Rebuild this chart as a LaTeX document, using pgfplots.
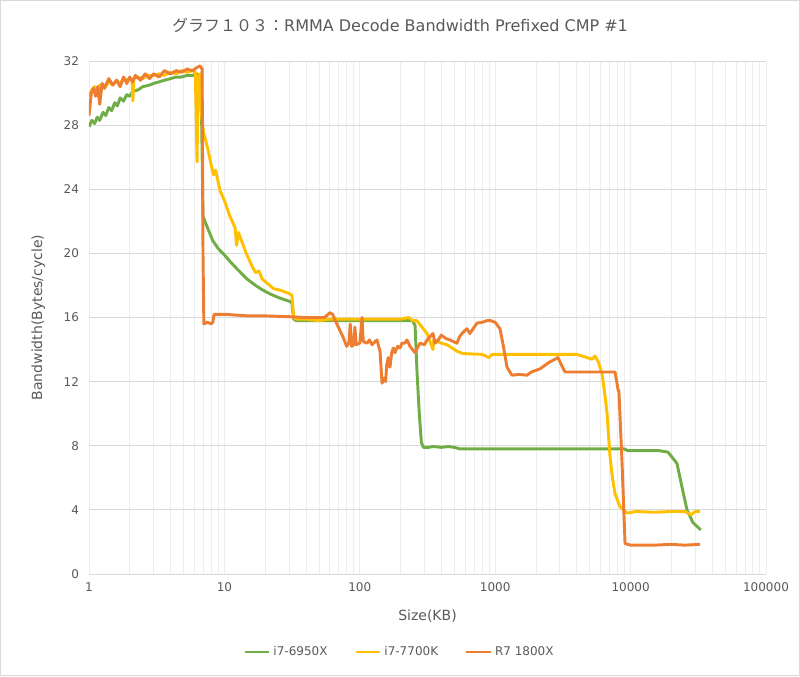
\documentclass[border=0pt]{standalone}
\usepackage{pgfplots}
\pgfplotsset{compat=1.18}
\usepackage{fontspec}
\setmainfont{DejaVu Sans}
\newfontfamily\cjk{Noto Sans CJK JP}
\definecolor{cGreen}{HTML}{70AD47}
\definecolor{cYellow}{HTML}{FFC000}
\definecolor{cOrange}{HTML}{ED7D31}
\definecolor{txtgray}{HTML}{595959}
\definecolor{gridgray}{HTML}{D9D9D9}
\definecolor{minorgray}{HTML}{EDEDED}

\begin{document}
\begin{tikzpicture}[x=1pt,y=1pt]
\useasboundingbox (0,0) rectangle (600,507);
\draw[gridgray, line width=1pt] (0.5,0.5) rectangle (599.5,506.5);
\begin{axis}[
  at={(66.75pt,76.5pt)}, anchor=south west,
  scale only axis,
  width=507.75pt, height=384.75pt,
  xmode=log, log basis x=10,
  xmin=1, xmax=100000,
  ymin=0, ymax=32,
  ytick={0,4,...,32},
  xtick={1,10,100,1000,10000,100000},
  xticklabels={1,10,100,1000,10000,100000},
  minor xtick={2,3,4,5,6,7,8,9,20,30,40,50,60,70,80,90,200,300,400,500,600,700,800,900,2000,3000,4000,5000,6000,7000,8000,9000,20000,30000,40000,50000,60000,70000,80000,90000},
  axis line style={draw=none},
  major tick length=0pt, minor tick length=0pt,
  xmajorgrids, ymajorgrids, xminorgrids,
  x grid style={minorgray, line width=0.6pt},
  minor x grid style={minorgray, line width=0.6pt},
  y grid style={gridgray, line width=0.7pt},
  tick label style={font=\fontsize{9}{10}\selectfont, text=txtgray},
  /pgf/number format/assume math mode=true,
  xticklabel style={yshift=-3pt},
  yticklabel style={xshift=-4pt},
  xlabel={Size(KB)},
  ylabel={Bandwidth(Bytes/cycle)},
  label style={font=\fontsize{10.5}{12}\selectfont, text=txtgray},
  xlabel style={at={(axis description cs:0.5,-0.06)}, anchor=north},
  ylabel style={at={(axis description cs:-0.058,0.5)}, anchor=south},
  legend columns=3,
  legend style={draw=none, fill=none, at={(axis description cs:0.459,-0.152)}, anchor=center,
    font=\fontsize{9}{10}\selectfont, text=txtgray,
    /tikz/every even column/.append style={column sep=18pt}},
  legend image code/.code={\draw[#1, line width=2.2pt] (0pt,0pt) -- (0.65cm,0pt);},
  every axis plot/.append style={line width=2.2pt, line join=round},
]
\addplot[cGreen] table {
1 27.9
1.05 28.3
1.1 28.1
1.15 28.5
1.2 28.3
1.27 28.8
1.33 28.6
1.4 29.1
1.47 28.9
1.55 29.4
1.62 29.2
1.7 29.7
1.8 29.5
1.9 29.9
2.0 29.8
2.1 30.1
2.3 30.2
2.5 30.4
2.8 30.5
3.0 30.6
3.3 30.7
3.6 30.8
4.0 30.9
4.4 31.0
4.8 31.0
5.3 31.1
5.8 31.1
6.3 31.2
6.6 31.0
6.8 28.0
6.95 22.3
7.5 21.6
8.2 20.8
9 20.3
10 19.9
11 19.5
12.5 19.0
14.7 18.4
17 18.0
19.3 17.7
22 17.45
25 17.25
28 17.1
30.5 17.0
31.5 16.9
32.5 15.9
34 15.8
40 15.8
60 15.8
100 15.8
150 15.8
200 15.8
245 15.8
256 15.5
265 12.5
275 10.0
285 8.2
295 7.9
320 7.9
350 7.95
400 7.9
450 7.95
500 7.9
550 7.8
1000 7.8
3000 7.8
6000 7.8
9000 7.8
9500 7.7
12000 7.7
16000 7.7
18900 7.6
22000 6.9
24000 5.4
26100 4.0
28900 3.2
33000 2.75
};
\addlegendentry{i7-6950X}
\addplot[cYellow] table {
1 29.8
1.05 30.2
1.1 30.4
1.15 30.0
1.2 30.5
1.3 30.3
1.4 30.7
1.5 30.5
1.6 30.8
1.7 30.6
1.8 30.9
1.9 30.8
2.0 30.9
2.08 30.8
2.11 29.5
2.14 30.9
2.3 31.0
2.5 30.9
2.7 31.1
3.0 31.1
3.3 31.2
3.6 31.1
4.0 31.3
4.4 31.2
4.8 31.4
5.3 31.3
5.8 31.4
6.1 31.3
6.28 25.7
6.4 31.0
6.6 31.2
6.8 28.5
7.0 27.6
7.5 26.6
8.0 25.5
8.3 24.9
8.6 25.2
9.3 23.9
10 23.3
11 22.3
12 21.6
12.3 20.5
12.7 21.3
14.5 20.0
16 19.2
17 18.8
18 18.9
19 18.4
21 18.1
23 17.8
26 17.7
30 17.5
31.5 17.4
32.5 16.0
34 15.9
40 15.9
50 15.8
60 15.9
100 15.9
150 15.9
200 15.9
230 16.0
245 15.8
264 15.8
314 15.0
340 14.2
347 14.0
352 14.6
400 14.4
441 14.3
522 13.9
578 13.75
800 13.7
900 13.5
950 13.7
1500 13.7
2500 13.7
4000 13.7
5200 13.4
5460 13.6
5800 13.2
6150 12.5
6500 11.0
6700 10.0
7050 7.3
7400 5.8
7680 5.0
8350 4.2
9400 3.8
11000 3.9
15000 3.85
20000 3.9
25000 3.9
28000 3.7
30000 3.9
32600 3.9
};
\addlegendentry{i7-7700K}
\addplot[cOrange] table {
1 28.6
1.04 30.0
1.08 30.3
1.12 29.8
1.16 30.4
1.2 29.3
1.25 30.6
1.3 30.3
1.4 30.9
1.5 30.5
1.6 30.8
1.7 30.4
1.8 31.0
1.9 30.6
2.0 31.0
2.1 30.7
2.2 31.1
2.4 30.8
2.6 31.2
2.8 30.9
3.0 31.2
3.3 31.0
3.6 31.4
4.0 31.2
4.4 31.4
4.8 31.3
5.3 31.5
5.8 31.4
6.3 31.6
6.6 31.7
6.85 31.5
6.95 20
7.05 15.6
7.5 15.7
8.0 15.6
8.2 15.7
8.4 16.2
10 16.2
15 16.1
20 16.1
30 16.05
40 16.0
55 16.0
60 16.3
63 16.2
66 15.8
75 14.8
80 14.2
83 14.4
85 15.6
87 14.2
90 14.3
92 15.4
94 14.3
100 14.4
104 16.0
106 14.5
113 14.4
118 14.6
123 14.3
130 14.5
134 14.6
141 13.9
146 11.9
150 12.2
155 12.0
158 13.0
162 13.5
167 12.9
172 13.8
177 14.1
182 13.8
190 14.2
198 14.1
205 14.4
215 14.4
223 14.6
235 14.2
245 14.0
256 13.8
270 14.2
279 14.4
300 14.3
314 14.6
330 14.8
347 15.0
360 14.4
380 14.6
400 14.9
430 14.7
464 14.6
490 14.5
522 14.4
545 14.8
569 15.0
600 15.2
619 15.3
650 15.0
700 15.4
734 15.65
800 15.7
870 15.8
930 15.8
1000 15.7
1085 15.3
1150 14.2
1222 12.9
1330 12.4
1500 12.45
1717 12.4
1850 12.6
2144 12.8
2500 13.2
2911 13.5
3100 13.0
3280 12.6
4000 12.6
5000 12.6
6000 12.6
7670 12.6
7900 12.0
8075 11.5
8200 11.4
8650 6.9
9100 1.9
10000 1.8
15000 1.8
20000 1.85
25000 1.8
32580 1.85
};
\addlegendentry{R7 1800X}
\end{axis}
\node[text=txtgray, font=\fontsize{12}{14}\selectfont] at (300,488) {{\cjk グラフ１０３：}RMMA Decode Bandwidth Prefixed CMP \#1};
\end{tikzpicture}
\end{document}
